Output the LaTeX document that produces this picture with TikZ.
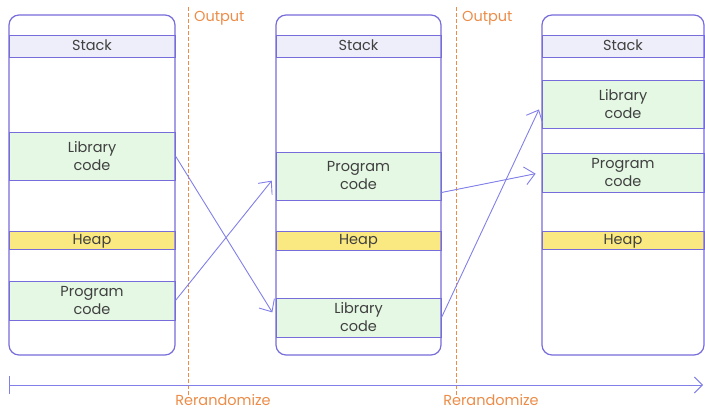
\documentclass[tikz,border=0pt]{standalone}
\usepackage{fontspec}
\setmainfont{Poppins}
\usetikzlibrary{arrows.meta,calc}
\definecolor{boxline}{RGB}{118,108,218}
\definecolor{linkline}{RGB}{130,128,232}
\definecolor{stackfill}{RGB}{238,238,250}
\definecolor{codefill}{RGB}{228,248,228}
\definecolor{heapfill}{RGB}{250,232,128}
\definecolor{marker}{RGB}{236,140,72}
\definecolor{labeltext}{RGB}{64,64,64}
\tikzset{
  band/.style={draw=boxline, line width=1pt, inner sep=0pt, align=center,
    text=labeltext, font=\fontsize{14.5}{18}\selectfont},
  stackband/.style={band, fill=stackfill},
  codeband/.style={band, fill=codefill},
  heapband/.style={band, fill=heapfill},
  oneline/.style={text height=10.5pt, text depth=2pt},
  shell/.style={draw=boxline, line width=1.2pt, rounded corners=10pt},
  link/.style={draw=linkline, line width=0.9pt, shorten >=6pt,
    -{Straight Barb[length=10pt,width=18pt,line width=0.9pt]}},
  divider/.style={draw=marker, line width=0.9pt, dash pattern=on 4pt off 2pt},
  marklabel/.style={text=marker, font=\fontsize{14.5}{17}\selectfont, inner sep=0pt},
  timeline/.style={draw=linkline, line width=1pt,
    {Bar[width=18pt,line width=1pt]}-{Straight Barb[length=8pt,width=16pt,line width=1pt]}}
}
\begin{document}
\begin{tikzpicture}[x=1pt,y=-1pt]
\useasboundingbox (0,0) rectangle (705,410);

% first layout
\node[stackband, oneline, minimum width=166pt, minimum height=22pt] (stack1) at (92,46) {Stack};
\node[codeband, minimum width=166pt, minimum height=48pt] (lib1) at (92,156) {Library\\code};
\node[heapband, oneline, minimum width=166pt, minimum height=18pt] (heap1) at (92,240) {Heap};
\node[codeband, minimum width=166pt, minimum height=39pt] (prog1) at (92,300.5) {Program\\code};
\draw[shell] (9,15) rectangle (175,355);

% second layout
\node[stackband, oneline, minimum width=165pt, minimum height=22pt] (stack2) at (358.5,46) {Stack};
\node[codeband, minimum width=165pt, minimum height=48pt] (prog2) at (358.5,176) {Program\\code};
\node[heapband, oneline, minimum width=165pt, minimum height=19pt] (heap2) at (358.5,240.5) {Heap};
\node[codeband, minimum width=165pt, minimum height=39pt] (lib2) at (358.5,317.5) {Library\\code};
\draw[shell] (276,15) rectangle (441,355);

% third layout
\node[stackband, oneline, minimum width=162pt, minimum height=22pt] (stack3) at (623,46) {Stack};
\node[codeband, minimum width=162pt, minimum height=48pt] (lib3) at (623,104) {Library\\code};
\node[heapband, oneline, minimum width=162pt, minimum height=18pt] (heap3) at (623,240) {Heap};
\node[codeband, minimum width=162pt, minimum height=39pt] (prog3) at (623,172.5) {Program\\code};
\draw[shell] (542,15) rectangle (704,355);

% rerandomization boundaries
\coordinate (cutAtop) at (188,7);
\coordinate (cutAbot) at (188,395);
\coordinate (cutBtop) at (456,7);
\coordinate (cutBbot) at (456,395);
\draw[divider] (cutAtop) -- (cutAbot);
\draw[divider] (cutBtop) -- (cutBbot);
\node[marklabel, anchor=base west] (outA) at (194,21) {Output};
\node[marklabel, anchor=base west] (outB) at (462,21) {Output};

% where the code regions move to
\draw[link] (lib1.east) -- (lib2.west);
\draw[link] (prog1.east) -- (prog2.west);
\draw[link] ($(prog2.south east)+(0,-8)$) -- (prog3.west);
\draw[link] (lib2.east) -- (lib3.west);

% time axis
\coordinate (tstart) at (9,385);
\coordinate (tend) at (703,385);
\draw[timeline] (tstart) -- (tend);
\node[marklabel, anchor=base] (rerA) at (223,405) {Rerandomize};
\node[marklabel, anchor=base] (rerB) at (491,405) {Rerandomize};
\end{tikzpicture}
\end{document}
